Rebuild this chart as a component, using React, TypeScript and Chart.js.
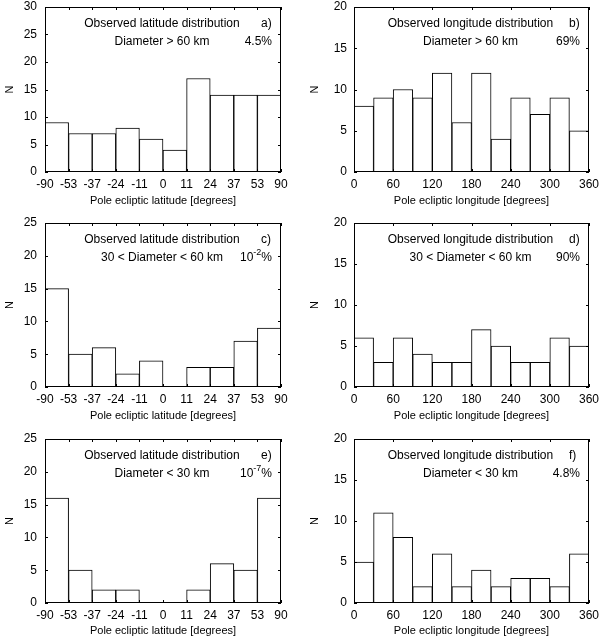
import React, { useEffect, useRef } from "react";
import { Chart, registerables } from "chart.js";

Chart.register(...registerables);

// ---------- data ----------
const latEdgeLabels = ["-90", "-53", "-37", "-24", "-11", "0", "11", "24", "37", "53", "90"];
const lonBinWidth = 30;
const lonMax = 360;
const lonTickStep = 60;

const latA = [9, 7, 7, 8, 6, 4, 17, 14, 14, 14];
const lonB = [8, 9, 10, 9, 12, 6, 12, 4, 9, 7, 9, 5];
const latC = [15, 5, 6, 2, 4, 0, 3, 3, 7, 9];
const lonD = [6, 3, 6, 4, 3, 3, 7, 5, 3, 3, 6, 5];
const latE = [16, 5, 2, 2, 0, 0, 2, 6, 5, 16];
const lonF = [5, 11, 8, 2, 6, 2, 4, 2, 3, 3, 2, 6];

const yMaxA = 30;
const yMaxB = 20;
const yMaxC = 25;
const yMaxD = 20;
const yMaxE = 25;
const yMaxF = 20;

const latTitle = "Observed latitude distribution";
const lonTitle = "Observed longitude distribution";
const latAxisTitle = "Pole ecliptic latitude [degrees]";
const lonAxisTitle = "Pole ecliptic longitude [degrees]";
const sizeLarge = "Diameter > 60 km";
const sizeMid = "30 < Diameter < 60 km";
const sizeSmall = "Diameter < 30 km";

type Pct = { base: string; exp?: string; tail: string };

type Panel = {
  kind: "lat" | "lon";
  values: number[];
  yMax: number;
  letter: string;
  sizeText: string;
  pct: Pct;
  col: number;
  row: number;
};

const panels: Panel[] = [
  { kind: "lat", values: latA, yMax: yMaxA, letter: "a)", sizeText: sizeLarge, pct: { base: "4.5", tail: "%" }, col: 0, row: 0 },
  { kind: "lon", values: lonB, yMax: yMaxB, letter: "b)", sizeText: sizeLarge, pct: { base: "69", tail: "%" }, col: 1, row: 0 },
  { kind: "lat", values: latC, yMax: yMaxC, letter: "c)", sizeText: sizeMid, pct: { base: "10", exp: "-2", tail: "%" }, col: 0, row: 1 },
  { kind: "lon", values: lonD, yMax: yMaxD, letter: "d)", sizeText: sizeMid, pct: { base: "90", tail: "%" }, col: 1, row: 1 },
  { kind: "lat", values: latE, yMax: yMaxE, letter: "e)", sizeText: sizeSmall, pct: { base: "10", exp: "-7", tail: "%" }, col: 0, row: 2 },
  { kind: "lon", values: lonF, yMax: yMaxF, letter: "f)", sizeText: sizeSmall, pct: { base: "4.8", tail: "%" }, col: 1, row: 2 },
];

// ---------- layout ----------
const FONT = '"Liberation Sans", Arial, Helvetica, sans-serif';
const rowTop = [0, 216, 432];
const rowHeight = [212, 212, 206];
const rowPlotH = [165, 164, 164];
const colLeft = [0, 300];
const colYAxisW = [45, 54];
const colPadRight = [19, 11];
const colYTitlePad = [3, 8];
const colTickPad = [8, 7];
const PAD_TOP = 7;

const framePlugin = {
  id: "gnuplotFrame",
  afterDraw(chart: any, _args: any, opts: any) {
    const { ctx, chartArea, scales } = chart;
    const { left, right, top, bottom } = chartArea;
    const p: Panel = opts.panel;
    ctx.save();
    ctx.strokeStyle = "#000";
    ctx.lineWidth = 1;
    ctx.strokeRect(left + 0.5, top + 0.5, right - left - 1, bottom - top - 1);
    const tl = 3;
    ctx.beginPath();
    scales.x.ticks.forEach((t: any) => {
      const px = Math.round(scales.x.getPixelForValue(t.value)) + 0.5;
      ctx.moveTo(px, bottom);
      ctx.lineTo(px, bottom - tl);
      ctx.moveTo(px, top);
      ctx.lineTo(px, top + tl);
    });
    scales.y.ticks.forEach((t: any) => {
      const py = Math.round(scales.y.getPixelForValue(t.value)) + 0.5;
      ctx.moveTo(left, py);
      ctx.lineTo(left + tl, py);
      ctx.moveTo(right, py);
      ctx.lineTo(right - tl, py);
    });
    ctx.stroke();

    // annotations
    ctx.fillStyle = "#000";
    ctx.textBaseline = "middle";
    ctx.font = `12px ${FONT}`;
    const cx = (left + right) / 2 - 1;
    const y1 = top + 17;
    const y2 = top + 35;
    ctx.textAlign = "center";
    ctx.fillText(p.kind === "lat" ? latTitle : lonTitle, cx, y1);
    ctx.fillText(p.sizeText, cx, y2);
    ctx.textAlign = "left";
    ctx.fillText(p.letter, right - 20, y1);

    // percentage (with optional superscript)
    const rx = right - 9;
    ctx.textAlign = "left";
    ctx.font = `12px ${FONT}`;
    const wBase = ctx.measureText(p.pct.base).width;
    const wTail = ctx.measureText(p.pct.tail).width;
    let wExp = 0;
    if (p.pct.exp) {
      ctx.font = `9px ${FONT}`;
      wExp = ctx.measureText(p.pct.exp).width;
    }
    let x0 = rx - (wBase + wExp + wTail);
    ctx.font = `12px ${FONT}`;
    ctx.fillText(p.pct.base, x0, y2);
    x0 += wBase;
    if (p.pct.exp) {
      ctx.font = `9px ${FONT}`;
      ctx.fillText(p.pct.exp, x0, y2 - 5);
      x0 += wExp;
    }
    ctx.font = `12px ${FONT}`;
    ctx.fillText(p.pct.tail, x0, y2);
    ctx.restore();
  },
};

function PanelChart({ panel }: { panel: Panel }) {
  const ref = useRef<HTMLCanvasElement | null>(null);
  const H = rowHeight[panel.row];
  const plotH = rowPlotH[panel.row];
  const xAxisH = H - PAD_TOP - plotH;
  const titleBottomPad = Math.max(H - (PAD_TOP + plotH + 29) - 6.6, 0);

  useEffect(() => {
    if (!ref.current) return;
    const isLat = panel.kind === "lat";
    const data = panel.values.map((v, i) =>
      isLat ? { x: i + 0.5, y: v } : { x: i * lonBinWidth + lonBinWidth / 2, y: v }
    );
    const chart = new Chart(ref.current, {
      type: "bar",
      data: {
        datasets: [
          {
            data: data as any,
            backgroundColor: "#fff",
            borderColor: "#000",
            borderWidth: 1,
            barPercentage: 1,
            categoryPercentage: 1,
          },
        ],
      },
      options: {
        responsive: false,
        animation: false,
        layout: {
          padding: { top: PAD_TOP, left: 0, right: colPadRight[panel.col], bottom: 0 },
        },
        plugins: {
          legend: { display: false },
          tooltip: { enabled: false },
          gnuplotFrame: { panel },
        } as any,
        scales: {
          x: {
            type: "linear",
            offset: false,
            min: 0,
            max: isLat ? latEdgeLabels.length - 1 : lonMax,
            grid: { display: false, drawTicks: false, offset: false },
            border: { display: false },
            ticks: {
              stepSize: isLat ? 1 : lonTickStep,
              autoSkip: false,
              maxRotation: 0,
              minRotation: 0,
              padding: 5,
              color: "#000",
              font: { family: FONT, size: 12 },
              callback: (v: any) => (isLat ? latEdgeLabels[Math.round(v)] ?? "" : String(v)),
            },
            title: {
              display: true,
              text: isLat ? latAxisTitle : lonAxisTitle,
              color: "#000",
              font: { family: FONT, size: 11 },
              padding: { top: 0, bottom: titleBottomPad },
            },
            afterFit: (s: any) => {
              s.height = xAxisH;
              s.paddingLeft = 0;
              s.paddingRight = 0;
            },
          },
          y: {
            type: "linear",
            min: 0,
            max: panel.yMax,
            grid: { display: false, drawTicks: false },
            border: { display: false },
            ticks: {
              stepSize: 5,
              padding: colTickPad[panel.col],
              color: "#000",
              font: { family: FONT, size: 12 },
            },
            title: {
              display: true,
              text: "N",
              color: "#000",
              font: { family: FONT, size: 11 },
              padding: { top: colYTitlePad[panel.col], bottom: 0 },
            },
            afterFit: (s: any) => {
              s.width = colYAxisW[panel.col];
              s.paddingTop = 0;
              s.paddingBottom = 0;
            },
          },
        },
      },
      plugins: [framePlugin as any],
    });
    return () => chart.destroy();
  }, [panel]);

  return (
    <canvas
      ref={ref}
      width={300}
      height={H}
      style={{
        position: "absolute",
        left: colLeft[panel.col],
        top: rowTop[panel.row],
        width: 300,
        height: H,
      }}
    />
  );
}

export default function App() {
  return (
    <div
      style={{
        position: "absolute",
        left: 0,
        top: 0,
        width: 600,
        height: 638,
        overflow: "hidden",
        background: "#fff",
      }}
    >
      {panels.map((p, i) => (
        <PanelChart key={i} panel={p} />
      ))}
    </div>
  );
}
